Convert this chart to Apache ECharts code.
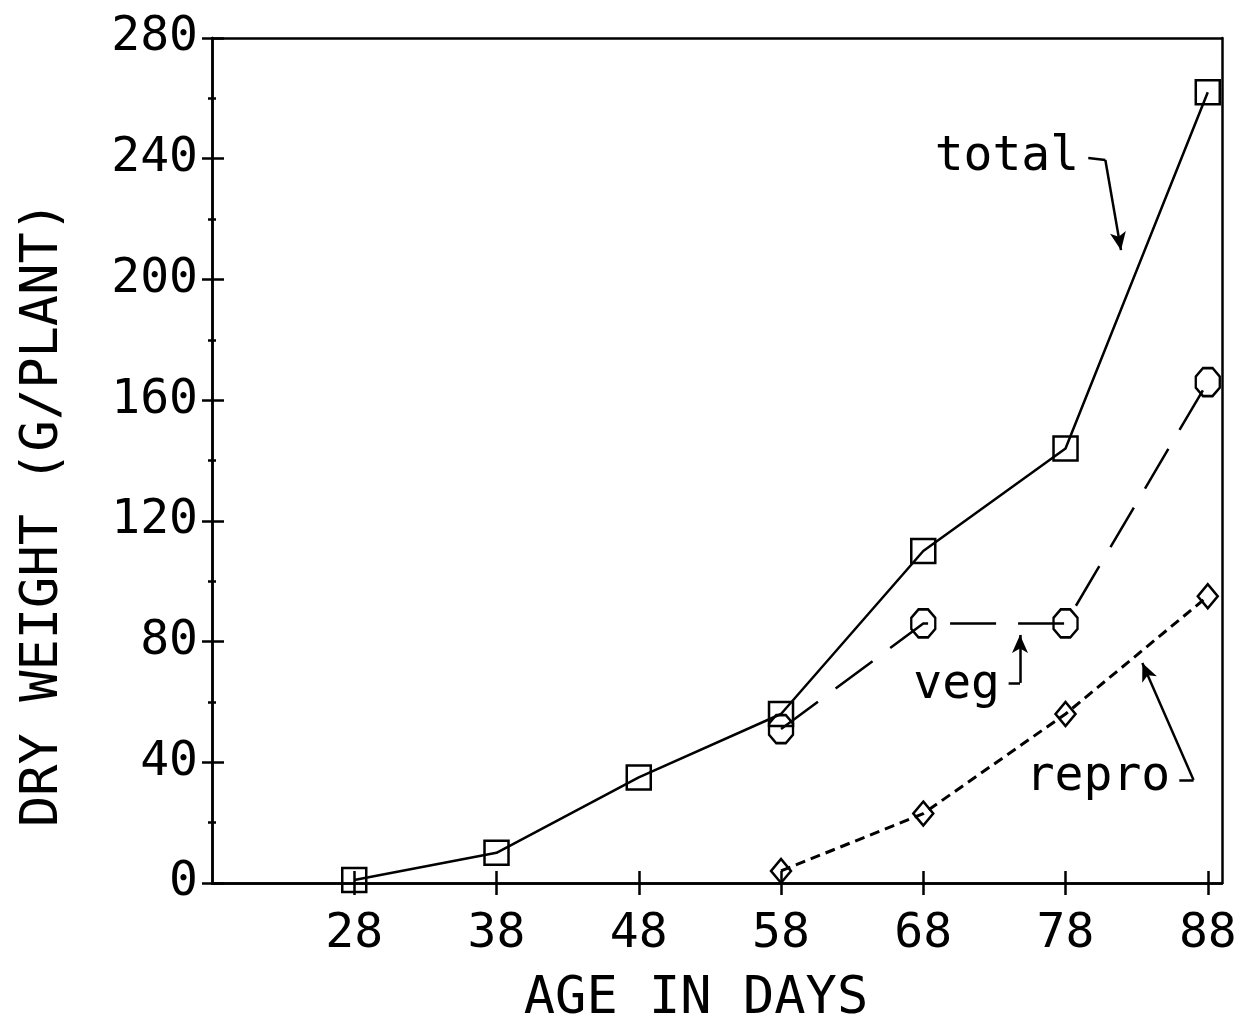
<!DOCTYPE html>
<html>
<head>
<meta charset="utf-8">
<script src="https://cdn.jsdelivr.net/npm/echarts@6/dist/echarts.min.js"></script>
<style>
  html, body { margin: 0; padding: 0; background: #fff; }
  #chart { width: 1241px; height: 1016px; }
</style>
</head>
<body>
<div id="chart"></div>
<script>
// data
const days = [28, 38, 48, 58, 68, 78, 88];
const totalWeight = [1, 10, 35, 56, 110, 144, 262];
const vegDays = [58, 68, 78, 88];
const vegWeight = [51, 86, 86, 166];
const reproDays = [58, 68, 78, 88];
const reproWeight = [4, 23, 56, 95];

// annotation labels (data coords) and arrows (polyline in data coords, arrow at last point)
const noteLabels = [
  { name: 'total', at: [68.8, 240.5] },
  { name: 'veg', at: [67.3, 65.5] },
  { name: 'repro', at: [75.2, 35] }
];
const noteArrows = [
  [[79.6, 240.2], [80.8, 239.6], [81.9, 209.7]],
  [[74.0, 66.3], [74.8, 66.3], [74.8, 82.2]],
  [[86.0, 34.1], [87.0, 34.1], [83.4, 72.9]]
];

const FONT = 'DejaVu Sans Mono';
const ink = '#000';

function pairs(xs, ys) {
  return xs.map((x, i) => [x, ys[i]]);
}

function arrowSegments() {
  const out = [];
  noteArrows.forEach(path => {
    for (let i = 0; i < path.length - 1; i++) {
      const last = i === path.length - 2;
      out.push([
        { coord: path[i], symbol: 'none' },
        { coord: path[i + 1], symbol: last ? 'arrow' : 'none', symbolSize: last ? [12, 18] : 0 }
      ]);
    }
  });
  return out;
}

const chart = echarts.init(document.getElementById('chart'));

const tickLabelStyle = { color: ink, fontFamily: FONT, fontSize: 48 };
const ghostLabel = { color: 'rgba(0,0,0,0)', fontFamily: FONT, fontSize: 12 };
const axisLineStyle = { color: ink, width: 2.5 };

// plain frame axis (top / right edge of the box)
function frameAxis(position, min, max) {
  return {
    type: 'value', min: min, max: max, position: position,
    axisLine: { show: true, onZero: false, lineStyle: axisLineStyle },
    axisTick: { show: false },
    axisLabel: { show: false },
    splitLine: { show: false }
  };
}

chart.setOption({
  animation: false,
  backgroundColor: '#fff',
  grid: { left: 212, right: 19, top: 38, bottom: 133, show: false },
  xAxis: [
    {
      type: 'value', min: 18, max: 89, position: 'bottom',
      axisLine: { show: true, onZero: false, lineStyle: axisLineStyle },
      axisTick: { show: true, customValues: days, length: 12, lineStyle: axisLineStyle },
      axisLabel: { customValues: days, margin: 28, ...tickLabelStyle },
      splitLine: { show: false }
    },
    {
      // same place, ticks pointing in: together they cross the axis
      // (labels kept but invisible, ticks vanish when labels are switched off)
      type: 'value', min: 18, max: 89, position: 'bottom',
      axisLine: { show: true, onZero: false, lineStyle: axisLineStyle },
      axisTick: { show: true, inside: true, customValues: days, length: 12, lineStyle: axisLineStyle },
      axisLabel: { show: true, customValues: days, ...ghostLabel },
      splitLine: { show: false }
    },
    frameAxis('top', 18, 89)
  ],
  yAxis: [
    {
      type: 'value', min: 0, max: 280, interval: 40, position: 'left',
      axisLine: { show: true, onZero: false, lineStyle: axisLineStyle },
      axisTick: { show: true, length: 10, lineStyle: axisLineStyle },
      minorTick: { show: true, splitNumber: 2, length: 4, lineStyle: axisLineStyle },
      axisLabel: { margin: 14, ...tickLabelStyle },
      splitLine: { show: false }
    },
    {
      type: 'value', min: 0, max: 280, interval: 40, position: 'left',
      axisLine: { show: true, onZero: false, lineStyle: axisLineStyle },
      axisTick: { show: true, inside: true, length: 12, lineStyle: axisLineStyle },
      minorTick: { show: true, splitNumber: 2, length: 4, lineStyle: axisLineStyle },
      axisLabel: { show: true, ...ghostLabel },
      splitLine: { show: false }
    },
    frameAxis('right', 0, 280)
  ],
  graphic: [
    {
      type: 'text', x: 43, y: 514, rotation: Math.PI / 2,
      style: { text: 'DRY WEIGHT (G/PLANT)', fill: ink, font: '52px "' + FONT + '"', align: 'center', verticalAlign: 'middle' }
    },
    {
      type: 'text', x: 696, y: 999,
      style: { text: 'AGE IN DAYS', fill: ink, font: '52px "' + FONT + '"', align: 'center', verticalAlign: 'middle' }
    }
  ],
  series: [
    {
      name: 'total', type: 'line', xAxisIndex: 0, yAxisIndex: 0,
      data: pairs(days, totalWeight),
      symbol: 'rect', symbolSize: 24,
      lineStyle: { color: ink, width: 2.5, type: 'solid' },
      itemStyle: { color: 'rgba(0,0,0,0)', borderColor: ink, borderWidth: 2.5 },
      markLine: {
        silent: true, animation: false,
        label: { show: false },
        lineStyle: { color: ink, width: 2.5, type: 'solid' },
        emphasis: { disabled: true },
        data: arrowSegments()
      },
      markPoint: {
        silent: true, symbol: 'circle', symbolSize: 0,
        label: {
          show: true, position: 'right', distance: 0,
          formatter: p => p.name,
          color: ink, fontFamily: FONT, fontSize: 48
        },
        data: noteLabels.map(n => ({ name: n.name, coord: n.at }))
      }
    },
    {
      // every axis pair has the same scale; each gets a series so it is drawn
      name: 'veg', type: 'line', xAxisIndex: 1, yAxisIndex: 1,
      data: pairs(vegDays, vegWeight),
      symbol: 'path://M30,0 L70,0 L100,30 L100,70 L70,100 L30,100 L0,70 L0,30 Z',
      symbolSize: [24, 28],
      lineStyle: { color: ink, width: 2.5, type: [46, 22] },
      itemStyle: { color: 'rgba(0,0,0,0)', borderColor: ink, borderWidth: 2.5 }
    },
    {
      name: 'repro', type: 'line', xAxisIndex: 2, yAxisIndex: 2,
      data: pairs(reproDays, reproWeight),
      symbol: 'diamond', symbolSize: [20, 24],
      lineStyle: { color: ink, width: 3, type: [10, 6] },
      itemStyle: { color: 'rgba(0,0,0,0)', borderColor: ink, borderWidth: 2.5 }
    }
  ]
});
</script>
</body>
</html>
